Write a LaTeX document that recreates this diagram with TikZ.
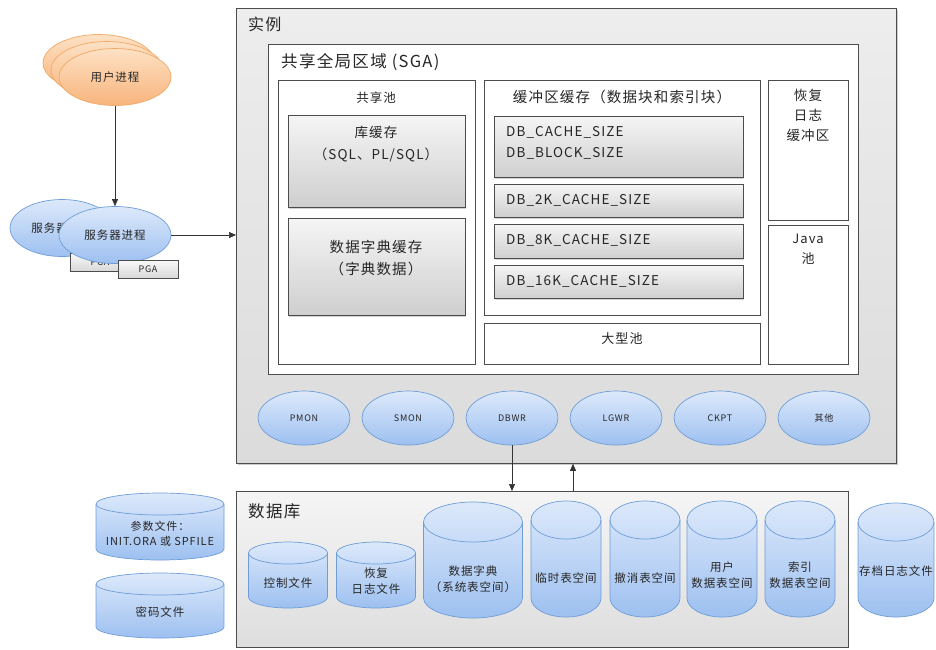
\documentclass[tikz,border=0pt]{standalone}
\usepackage{fontspec}
\newfontfamily\cjk[LetterSpace=8]{Noto Sans CJK SC}
\usetikzlibrary{positioning, shapes.geometric, arrows.meta, shadows}
\definecolor{procfill}{HTML}{DDE9FB}
\definecolor{procdark}{HTML}{9DC0F0}
\definecolor{procline}{HTML}{6E9DD8}
\definecolor{userfill}{HTML}{FDE1C4}
\definecolor{userdark}{HTML}{F8B47C}
\definecolor{userline}{HTML}{F2A866}
% centre x, bottom y, width, height, cap radius
\newcommand{\drum}[5]{%
    \draw[disk] ({#1-#3/2},{#2-#4+#5}) -- ({#1-#3/2},{#2-#5})
        arc[start angle=180, end angle=0, x radius={#3/2}, y radius=#5]
        -- ({#1+#3/2},{#2-#4+#5})
        arc[start angle=0, end angle=-180, x radius={#3/2}, y radius=#5] -- cycle;
    \draw[procline, line width=0.7pt] ({#1-#3/2},{#2-#4+#5})
        arc[start angle=180, end angle=0, x radius={#3/2}, y radius=#5];}

\begin{document}
\begin{tikzpicture}[x=1pt, y=-1pt,
    every node/.style={font=\cjk, text=black!85},
    frame/.style={rectangle, draw=black!70, line width=0.8pt, anchor=north west, inner sep=0pt},
    panel/.style={frame, fill=white},
    cache/.style={frame, top color=gray!8, bottom color=gray!38, drop shadow={shadow xshift=1pt, shadow yshift=-1.5pt, opacity=0.35}},
    proc/.style={ellipse, draw=procline, line width=0.7pt, top color=procfill, bottom color=procdark, minimum width=92pt, minimum height=54pt, inner sep=0pt, font=\cjk\fontsize{9}{10}\selectfont},
    user/.style={ellipse, draw=userline, line width=0.7pt, top color=userfill, bottom color=userdark, minimum width=112pt, minimum height=57pt, font=\cjk\fontsize{11.5}{13}\selectfont},
    pga/.style={rectangle, draw=black!70, top color=gray!5, bottom color=gray!30, minimum width=60pt, minimum height=18pt, inner sep=0pt, font=\cjk\fontsize{9}{10}\selectfont},
    disk/.style={draw=procline, line width=0.7pt, top color=procfill, bottom color=procdark},
    disklabel/.style={align=center, inner sep=0pt, font=\cjk\fontsize{11.5}{16}\selectfont},
    title/.style={font=\cjk\fontsize{13}{16}\selectfont, inner sep=0pt},
    dbtext/.style={anchor=west, align=left, inner sep=0pt, font=\cjk\fontsize{13.5}{21}\selectfont},
    arr/.style={-{Triangle[length=7pt, width=6pt]}, line width=0.6pt, black!80}]

    \useasboundingbox (0,0) rectangle (936,649);

    % instance
    \node[frame, top color=gray!14, bottom color=gray!28, minimum width=660pt, minimum height=455pt, drop shadow={shadow xshift=1.5pt, shadow yshift=-1.5pt, opacity=0.4}] (inst) at (236,8) {};
    \node[anchor=west, inner sep=0pt, font=\cjk\fontsize{16}{18}\selectfont] (insttitle) at (248,24) {实例};

    \node[panel, minimum width=590pt, minimum height=330pt] (sga) at (268,44) {};
    \node[anchor=west, inner sep=0pt, font=\cjk\fontsize{16.5}{18}\selectfont] (sgatitle) at (281,62) {共享全局区域 (SGA)};

    % shared pool
    \node[panel, minimum width=197pt, minimum height=284pt] (shpool) at (278,80) {};
    \node[title, font=\cjk\fontsize{12.5}{16}\selectfont] (shtitle) at (376,98) {共享池};
    \node[cache, minimum width=177pt, minimum height=92pt] (libcache) at (288,115) {};
    \node[title, align=center, font=\cjk\fontsize{13.5}{22}\selectfont] (libtext) at (376,144) {库缓存\\（SQL、PL/SQL）};
    \node[cache, minimum width=177pt, minimum height=97pt] (dictcache) at (288,218) {};
    \node[title, align=center, font=\cjk\fontsize{14.5}{22}\selectfont] (dicttext) at (376,258) {数据字典缓存\\（字典数据）};

    % buffer cache
    \node[panel, minimum width=276pt, minimum height=235pt] (bufcache) at (484,80) {};
    \node[title, font=\cjk\fontsize{14.5}{16}\selectfont] (buftitle) at (622,97) {缓冲区缓存（数据块和索引块）};
    \node[cache, minimum width=249pt, minimum height=61pt] (dbcache) at (494,116) {};
    \node[dbtext] (dbcachetext) at (506,143) {DB\_CACHE\_SIZE\\DB\_BLOCK\_SIZE};
    \node[cache, minimum width=249pt, minimum height=33pt] (db2k) at (494,184) {};
    \node[dbtext] (db2ktext) at (506,200) {DB\_2K\_CACHE\_SIZE};
    \node[cache, minimum width=249pt, minimum height=34pt] (db8k) at (494,224) {};
    \node[dbtext] (db8ktext) at (506,240) {DB\_8K\_CACHE\_SIZE};
    \node[cache, minimum width=249pt, minimum height=33pt] (db16k) at (494,265) {};
    \node[dbtext] (db16ktext) at (506,281) {DB\_16K\_CACHE\_SIZE};

    \node[panel, minimum width=276pt, minimum height=41pt] (largepool) at (484,323) {};
    \node[title] (largetext) at (622,339) {大型池};

    \node[panel, minimum width=80pt, minimum height=140pt] (redobuf) at (768,80) {};
    \node[title, align=center, font=\cjk\fontsize{13.5}{20}\selectfont, anchor=north] (redotext) at (808,89) {恢复\\日志\\缓冲区};
    \node[panel, minimum width=80pt, minimum height=139pt] (javapool) at (768,225) {};
    \node[title, align=center, font=\cjk\fontsize{13}{20}\selectfont, anchor=north] (javatext) at (808,234) {Java\\池};

    % background processes
    \node[proc] (pmon) at (304,418) {PMON};
    \node[proc] (smon) at (408,418) {SMON};
    \node[proc] (dbwr) at (512,418) {DBWR};
    \node[proc] (lgwr) at (616,418) {LGWR};
    \node[proc] (ckpt) at (720,418) {CKPT};
    \node[proc] (other) at (824,418) {其他};

    % user and server processes
    \node[user] (user3) at (99,63) {};
    \node[user] (user2) at (107,70) {};
    \node[user] (user1) at (115,77) {用户进程};

    \node[user, draw=procline, top color=procfill, bottom color=procdark, minimum width=104pt] (srv2) at (62,228) {服务器进程};
    \node[pga] (pga2) at (100,262) {PGA};
    \node[user, draw=procline, top color=procfill, bottom color=procdark] (srv1) at (115,235) {服务器进程};
    \node[pga] (pga1) at (148,269) {PGA};

    % database
    \node[frame, top color=gray!8, bottom color=gray!26, minimum width=612pt, minimum height=156pt] (db) at (236,491) {};
    \node[anchor=west, inner sep=0pt, font=\cjk\fontsize{16.5}{18}\selectfont] (dbtitle) at (248,511) {数据库};

    \drum{288}{608}{79}{66}{11}
    \node[disklabel] (ctrltext) at (288,583) {控制文件};
    \drum{376}{608}{79}{66}{11}
    \node[disklabel] (redologtext) at (376,581) {恢复\\日志文件};
    \drum{473}{618}{99}{116}{20}
    \node[disklabel] (systemtext) at (473,579) {数据字典\\（系统表空间）};
    \drum{566}{617}{70}{116}{19}
    \node[disklabel] (temptext) at (566,578) {临时表空间};
    \drum{645}{617}{70}{116}{19}
    \node[disklabel] (undotext) at (645,578) {撤消表空间};
    \drum{722}{617}{70}{116}{19}
    \node[disklabel] (usertstext) at (722,575) {用户\\数据表空间};
    \drum{800}{617}{70}{116}{19}
    \node[disklabel] (indextext) at (800,575) {索引\\数据表空间};

    \drum{160}{560}{128}{67}{11}
    \node[disklabel, font=\cjk\fontsize{11}{15}\selectfont] (paramtext) at (160,534) {参数文件：\\INIT.ORA 或 SPFILE};
    \drum{160}{638}{128}{65}{11}
    \node[disklabel] (pwdtext) at (160,612) {密码文件};
    \drum{896}{617}{76}{114}{19}
    \node[disklabel] (archivetext) at (896,571) {存档日志文件};

    % connectors
    \coordinate (upfoot) at (573,491);
    \draw[arr] (user1.south) -- (srv1.north);
    \draw[arr] (srv1.east) -- (srv1.east -| inst.west);
    \draw[arr] (dbwr.south) -- (dbwr.south |- db.north);
    \draw[arr] (upfoot) -- (upfoot |- inst.south);
\end{tikzpicture}
\end{document}
